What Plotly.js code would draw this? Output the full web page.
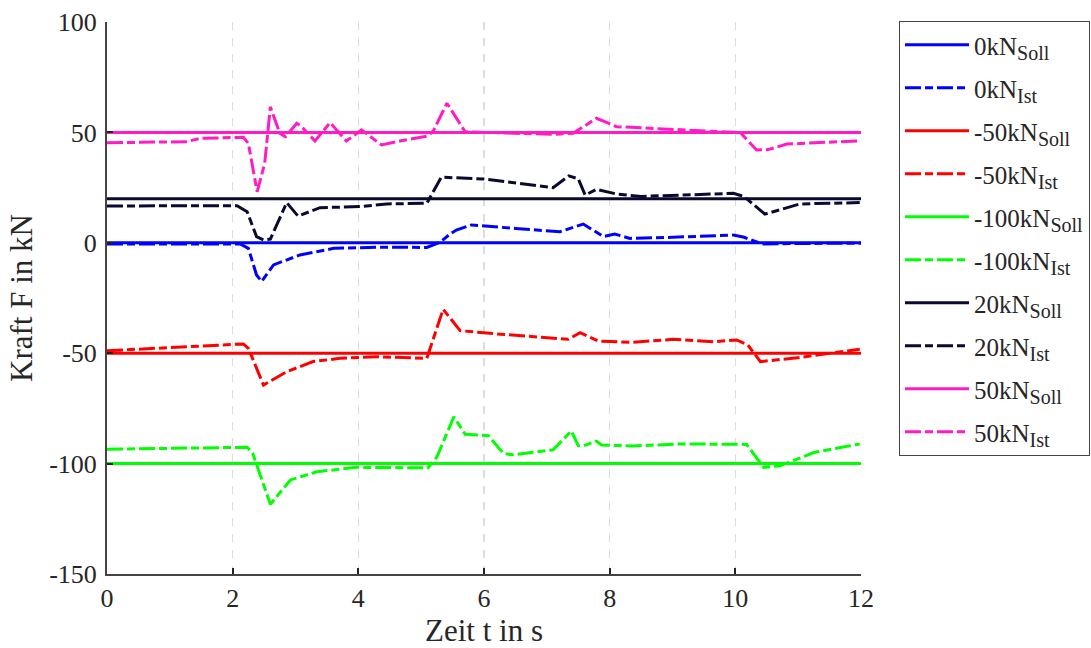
<!DOCTYPE html>
<html>
<head>
<meta charset="utf-8">
<script src="https://cdn.plot.ly/plotly-3.0.1.min.js"></script>
<style>html,body{margin:0;padding:0;background:#fff;}#chart{width:1091px;height:648px;}</style>
</head>
<body>
<div id="chart"></div>
<script>
// Setpoint (Soll) levels in kN
const sollLevels = [0, -50, -100, 20, 50];
const sollTime = [0, 12];

// Measured (Ist) series
const t0 = [0, 2.12, 2.25, 2.38, 2.46, 2.65, 3.07, 3.61, 4.3, 5.09, 5.30, 5.46, 5.56, 5.80, 6.5, 7.21, 7.58, 7.90, 8.08, 8.32, 9.0, 9.97, 10.14, 10.42, 11.0, 12];
const f0 = [-0.5, -0.5, -2.5, -14.6, -17.5, -10, -5.5, -2.5, -2, -2.1, 0.2, 4, 5.8, 8.1, 6.5, 5.0, 8.5, 2.8, 4, 2.0, 2.5, 3.5, 2.5, -0.5, -0.3, -0.2];

const tm50 = [0, 2.17, 2.25, 2.49, 2.86, 3.28, 3.71, 4.29, 5.09, 5.35, 5.62, 6.26, 7.34, 7.53, 7.82, 8.36, 9.01, 9.65, 10.02, 10.2, 10.40, 11.03, 11.98];
const fm50 = [-48.9, -45.8, -47.8, -64.4, -58.4, -53.8, -52.3, -51.6, -52.3, -30.1, -39.8, -41.4, -43.7, -40.7, -44.5, -45.1, -43.7, -44.8, -44, -46.3, -53.8, -51.9, -48.2];

const tm100 = [0, 2.23, 2.32, 2.60, 2.92, 3.34, 3.97, 5.11, 5.25, 5.52, 5.70, 6.07, 6.31, 6.45, 7.10, 7.39, 7.50, 7.62, 7.79, 7.87, 8.37, 9.11, 10.18, 10.45, 10.71, 11.25, 11.98];
const fm100 = [-93.5, -92.6, -95.4, -118.4, -107.4, -103.7, -101.7, -101.9, -97, -78.8, -86.7, -87.4, -95.4, -96, -93.8, -85.2, -91.9, -91.6, -89.8, -91.6, -92, -91.1, -91.3, -101.7, -101, -95, -91.1];

const t20 = [0, 2.07, 2.23, 2.38, 2.49, 2.6, 2.86, 3.04, 3.39, 4.03, 4.45, 5.09, 5.32, 5.99, 7.10, 7.35, 7.5, 7.61, 7.79, 8.11, 8.5, 9.97, 10.14, 10.47, 11.03, 11.98];
const f20 = [16.7, 16.8, 14.1, 2.8, 1.3, 1.7, 18.2, 12.1, 15.9, 16.4, 17.6, 17.9, 29.7, 28.9, 25, 30.3, 29, 21.6, 24.2, 22.1, 21, 22.4, 20.9, 13.0, 17.6, 18.2];

const t50 = [0, 1.27, 1.48, 2.17, 2.25, 2.39, 2.51, 2.60, 2.75, 2.84, 3.02, 3.1, 3.31, 3.55, 3.81, 4.05, 4.37, 4.66, 5.11, 5.2, 5.41, 5.70, 7.10, 7.42, 7.79, 8.11, 10.08, 10.34, 10.52, 10.82, 11.98];
const f50 = [45.3, 45.8, 47.3, 47.8, 45, 23.1, 36, 61.6, 49.6, 48, 54.1, 52.5, 46.1, 54.4, 46.1, 51.1, 44.3, 46.1, 48.4, 51, 63.2, 50.3, 49.1, 49.6, 56.4, 52.6, 49.9, 42.0, 42.2, 44.7, 46.2];

const labels = ['0kN', '-50kN', '-100kN', '20kN', '50kN'];
const colors = ['#0000ff', '#ff0000', '#00ff00', '#0a0a30', '#ff1cc4'];
const istT = [t0, tm50, tm100, t20, t50];
const istF = [f0, fm50, fm100, f20, f50];

const traces = [];
for (let i = 0; i < labels.length; i++) {
  traces.push({
    x: sollTime, y: sollTime.map(() => sollLevels[i]), type: 'scatter', mode: 'lines',
    name: labels[i] + '<sub><span style="font-size:20px">Soll</span></sub>', legendgroup: 'g' + (2 * i),
    line: {color: colors[i], width: 3}
  });
  traces.push({
    x: istT[i], y: istF[i], type: 'scatter', mode: 'lines',
    name: labels[i] + '<sub><span style="font-size:20px">Ist</span></sub>', legendgroup: 'g' + (2 * i + 1),
    line: {color: colors[i], width: 3, dash: '16px,4px,8px,4px'}
  });
}

const font = '"Liberation Serif", "Times New Roman", serif';
const txt = '#262626';
const layout = {
  width: 1091, height: 648,
  margin: {l: 107, r: 230, t: 22, b: 74, autoexpand: false},
  paper_bgcolor: '#ffffff', plot_bgcolor: '#ffffff',
  font: {family: font, size: 26, color: txt},
  xaxis: {
    range: [0, 12], tickvals: [0, 2, 4, 6, 8, 10, 12], ticktext: ['0','2','4','6','8','10','12'],
    showgrid: true, gridcolor: '#dcdcdc', griddash: '8px,8px', gridwidth: 1.5,
    zeroline: false, showline: true, linecolor: '#444444', linewidth: 2,
    ticks: 'inside', ticklen: 6, tickwidth: 2, tickcolor: '#222222',
    tickfont: {family: font, size: 26, color: txt},
    title: {text: 'Zeit t in s', font: {family: font, size: 31, color: txt}, standoff: 6}
  },
  yaxis: {
    range: [-150, 100], tickvals: [-150, -100, -50, 0, 50, 100], ticktext: ['-150','-100','-50','0','50','100'],
    showgrid: true, gridcolor: '#dcdcdc', griddash: '8px,8px', gridwidth: 1.5,
    zeroline: false, showline: true, linecolor: '#444444', linewidth: 2,
    ticks: 'inside', ticklen: 6, tickwidth: 2, tickcolor: '#222222', ticklabelstandoff: 3,
    tickfont: {family: font, size: 26, color: txt},
    title: {text: 'Kraft F in kN', font: {family: font, size: 31, color: txt}, standoff: 7}
  },
  showlegend: true,
  legend: {
    x: 1.0504, y: 1.0018, xanchor: 'left', yanchor: 'top',
    bgcolor: '#ffffff', bordercolor: '#444444', borderwidth: 1,
    font: {family: font, size: 25, color: txt},
    itemwidth: 64, tracegroupgap: 7.5, maxheight: 640
  }
};

Plotly.newPlot('chart', traces, layout, {displayModeBar: false, staticPlot: true});
</script>
</body>
</html>
